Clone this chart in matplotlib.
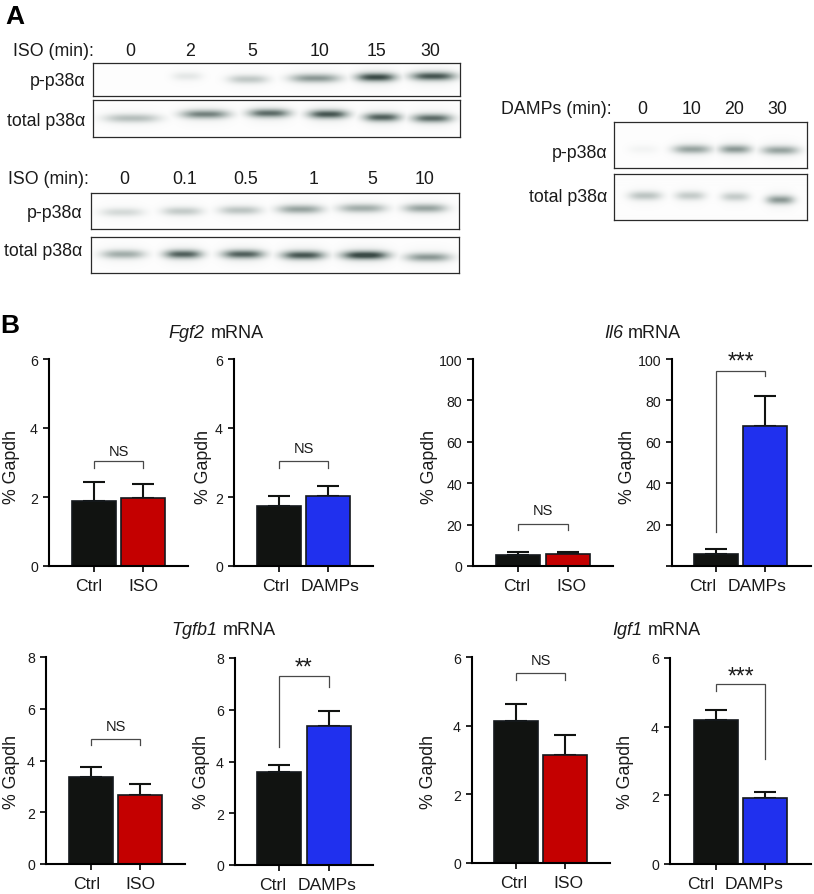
import numpy as np
import matplotlib
matplotlib.use("Agg")
import matplotlib.pyplot as plt
from matplotlib.colors import LinearSegmentedColormap
from matplotlib.transforms import ScaledTranslation

plt.rcParams['font.family'] = ['Liberation Sans', 'DejaVu Sans']

W, H = 814, 895

# western blot band strengths, per lane
iso_long_lanes = ["0", "2", "5", "10", "15", "30"]
iso_long_phospho = [0.0, 0.12, 0.3, 0.55, 0.9, 0.85]
iso_long_total = [0.35, 0.65, 0.75, 0.85, 0.8, 0.75]

iso_short_lanes = ["0", "0.1", "0.5", "1", "5", "10"]
iso_short_phospho = [0.2, 0.28, 0.32, 0.5, 0.45, 0.5]
iso_short_total = [0.45, 0.8, 0.8, 0.85, 0.95, 0.55]

damps_lanes = ["0", "10", "20", "30"]
damps_phospho = [0.05, 0.5, 0.55, 0.5]
damps_total = [0.32, 0.28, 0.28, 0.55]

# bar values and the top of the error bars
fgf2_iso = [1.88, 1.98]
fgf2_iso_err = [2.43, 2.38]
fgf2_damps = [1.73, 2.03]
fgf2_damps_err = [2.03, 2.33]
il6_iso = [5.3, 5.8]
il6_iso_err = [7.0, 7.0]
il6_damps = [6.0, 67.5]
il6_damps_err = [8.0, 82.0]
tgfb1_iso = [3.36, 2.68]
tgfb1_iso_err = [3.75, 3.1]
tgfb1_damps = [3.61, 5.38]
tgfb1_damps_err = [3.88, 5.97]
igf1_iso = [4.13, 3.15]
igf1_iso_err = [4.63, 3.72]
igf1_damps = [4.18, 1.93]
igf1_damps_err = [4.5, 2.1]

ticks_6 = [0, 2, 4, 6]
ticks_8 = [0, 2, 4, 6, 8]
ticks_100 = [0, 20, 40, 60, 80, 100]

BLACK = "#111311"
RED = "#c40000"
BLUE = "#2030ee"

blot_cmap = LinearSegmentedColormap.from_list("blot", ["#fdfdfd", "#a3aeab", "#3a4a46"])

fig = plt.figure(figsize=(W / 100, H / 100), dpi=100)
fig.patch.set_facecolor("white")


def rect(left, top, right, bottom):
    return [left / W, 1 - bottom / H, (right - left) / W, (bottom - top) / H]


def txt(x, y, s, **kw):
    kw.setdefault("ha", "center")
    kw.setdefault("va", "center")
    kw.setdefault("fontsize", 12.8)
    kw.setdefault("color", "#1a1a1a")
    return fig.text(x / W, 1 - y / H, s, **kw)


def blot(box, strengths, centers, widths, rows):
    left, top, right, bottom = box
    ax = fig.add_axes(rect(left, top, right, bottom))
    xs = np.arange(left, right, 0.5)
    ys = np.arange(top, bottom, 0.5)
    X, Y = np.meshgrid(xs, ys)
    img = np.zeros_like(X)
    for s, c, w, r in zip(strengths, centers, widths, rows):
        along = np.exp(-(np.abs(X - c) / (w / 2)) ** 3)
        across = np.exp(-0.5 * ((Y - r) / 3.0) ** 2)
        halo = np.exp(-0.5 * ((Y - r) / 6.5) ** 2)
        img = np.maximum(img, s * along * (across + 0.12 * halo))
    ax.imshow(img, cmap=blot_cmap, vmin=0, vmax=1, extent=(left, right, bottom, top),
              aspect="auto", interpolation="bilinear")
    ax.set_xticks([])
    ax.set_yticks([])
    for sp in ax.spines.values():
        sp.set_linewidth(0.9)
        sp.set_color("#2a2a2a")


def panel(box, centers, values, tops, colors, labels, label_x, yticks, ymax, hide_zero=False):
    left, top, right, bottom = box
    dx = centers[1] - centers[0]
    ax = fig.add_axes(rect(left, top, right, bottom))
    ax.patch.set_alpha(0)
    pos = np.arange(2)
    ax.bar(pos, values, width=43.5 / dx, color=colors, edgecolor="#14181c", linewidth=1.2, zorder=2)
    for p, v, t in zip(pos, values, tops):
        ax.errorbar(p, v, yerr=[[0], [t - v]], color=BLACK, capsize=8.2, elinewidth=1.5,
                    capthick=1.5, zorder=1)
    ax.set_xlim((left - centers[0]) / dx, (right - centers[0]) / dx)
    ax.set_ylim(0, ymax)
    ax.spines["top"].set_visible(False)
    ax.spines["right"].set_visible(False)
    ax.spines["left"].set_linewidth(1.5)
    ax.spines["bottom"].set_linewidth(1.5)
    ax.set_yticks(yticks)
    ax.set_yticklabels(["" if (hide_zero and t == 0) else str(t) for t in yticks])
    ax.set_xticks(pos)
    ax.set_xticklabels(labels)
    ax.tick_params(axis="y", length=4, width=1.2, pad=4, labelsize=10.2, labelcolor="#1a1a1a")
    ax.tick_params(axis="x", length=4.5, width=1.2, pad=4, labelsize=12.6, labelcolor="#1a1a1a")
    # the category labels sit a little off their ticks
    for lab, want, c in zip(ax.get_xticklabels(), label_x, centers):
        lab.set_transform(lab.get_transform() + ScaledTranslation((want - c) / 100, 0, fig.dpi_scale_trans))
    return ax


def bracket(ax, y_top, y_left, y_right, label, y_label, big=False):
    ax.plot([0, 0, 1, 1], [y_left, y_top, y_top, y_right], color="#484848", lw=0.9,
            clip_on=False, solid_joinstyle="miter", zorder=3)
    ax.text(0.5, y_label, label, ha="center", va="center", color="#1a1a1a",
            fontsize=16.5 if big else 10.5, clip_on=False)


# panel A
txt(15, 17, "A", fontsize=19, fontweight="bold", color="black")

blot((93, 64, 460, 97), iso_long_phospho, [130, 187, 248, 315, 376, 433], [30, 30, 40, 50, 40, 45],
     [77, 77, 80, 79, 78, 77])
blot((93, 101, 460, 138), iso_long_total, [132, 205, 269, 328, 382, 432], [55, 48, 42, 40, 37, 40],
     [119, 115, 114, 115, 118, 119])
blot((91, 194, 459, 230), iso_short_phospho, [122, 182, 240, 300, 362, 425], [43, 40, 42, 45, 47, 43],
     [213, 212, 211, 210, 209, 209])
blot((91, 238, 459, 274), iso_short_total, [123, 183, 243, 303, 365, 428], [43, 38, 42, 43, 47, 45],
     [255, 255, 255, 256, 256, 258])
blot((614, 123, 807, 169), damps_phospho, [643, 692, 735, 780], [30, 38, 32, 37], [150, 150, 150, 151])
blot((614, 175, 807, 221), damps_total, [645, 690, 735, 780], [33, 30, 28, 28], [197, 197, 198, 201])

txt(94, 51, "ISO (min):", ha="right")
for lab, x in zip(iso_long_lanes, [130, 190, 252, 320, 377, 430]):
    txt(x, 51, lab)
txt(89, 180, "ISO (min):", ha="right")
for lab, x in zip(iso_short_lanes, [124, 185, 246, 314, 372, 425]):
    txt(x, 180, lab)
txt(612, 109, "DAMPs (min):", ha="right")
for lab, x in zip(damps_lanes, [642, 692, 734, 777]):
    txt(x, 109, lab)

txt(85, 82, "p-p38\u03b1", ha="right")
txt(85, 121, "total p38\u03b1", ha="right")
txt(82, 213, "p-p38\u03b1", ha="right")
txt(82, 252, "total p38\u03b1", ha="right")
txt(607, 153, "p-p38\u03b1", ha="right")
txt(607, 197, "total p38\u03b1", ha="right")

# panel B
txt(10, 326, "B", fontsize=19, fontweight="bold", color="black")

for ital, x_i, x_m, y in [("Fgf2", 204, 211, 334), ("Il6", 623, 628, 334),
                          ("Tgfb1", 217, 223, 631), ("Igf1", 642, 648, 631)]:
    txt(x_i, y, ital, ha="right", style="italic", fontsize=13)
    txt(x_m, y, "mRNA", ha="left", fontsize=13)

ax = panel((49, 360, 188, 567), [94, 143], fgf2_iso, fgf2_iso_err, [BLACK, RED], ["Ctrl", "ISO"], [89, 143], ticks_6, 6)
bracket(ax, 3.04, 2.85, 2.85, "NS", 3.33)
ax = panel((234, 360, 373, 567), [279, 328], fgf2_damps, fgf2_damps_err, [BLACK, BLUE], ["Ctrl", "DAMPs"], [276, 330], ticks_6, 6)
bracket(ax, 3.05, 2.85, 2.85, "NS", 3.42)
ax = panel((473, 360, 613, 567), [518, 568], il6_iso, il6_iso_err, [BLACK, RED], ["Ctrl", "ISO"], [517, 571], ticks_100, 100)
bracket(ax, 20.3, 17.4, 17.4, "NS", 27)
ax = panel((672, 360, 811, 567), [716, 765], il6_damps, il6_damps_err, [BLACK, BLUE], ["Ctrl", "DAMPs"], [703, 757], ticks_100, 100, hide_zero=True)
bracket(ax, 94.2, 16.4, 92, "***", 99.2, big=True)

ax = panel((46, 658, 185, 865), [91, 140], tgfb1_iso, tgfb1_iso_err, [BLACK, RED], ["Ctrl", "ISO"], [87, 140], ticks_8, 8)
bracket(ax, 4.83, 4.6, 4.6, "NS", 5.33)
ax = panel((235, 659, 373, 866), [279, 329], tgfb1_damps, tgfb1_damps_err, [BLACK, BLUE], ["Ctrl", "DAMPs"], [273, 327], ticks_8, 8)
bracket(ax, 7.3, 4.56, 6.88, "**", 7.65, big=True)
ax = panel((472, 658, 610, 864), [516, 565], igf1_iso, igf1_iso_err, [BLACK, RED], ["Ctrl", "ISO"], [514, 568], ticks_6, 6)
bracket(ax, 5.53, 5.33, 5.33, "NS", 5.9)
ax = panel((670, 659, 811, 865), [716, 765], igf1_damps, igf1_damps_err, [BLACK, BLUE], ["Ctrl", "DAMPs"], [701, 754], ticks_6, 6)
bracket(ax, 5.24, 5.04, 3.06, "***", 5.48, big=True)

for x, y in [(11, 467), (203, 467), (430, 467), (627, 467), (11, 772), (202, 772), (429, 772), (626, 772)]:
    txt(x, y, "% Gapdh", rotation=90)

fig.savefig("out.png", dpi=100)
